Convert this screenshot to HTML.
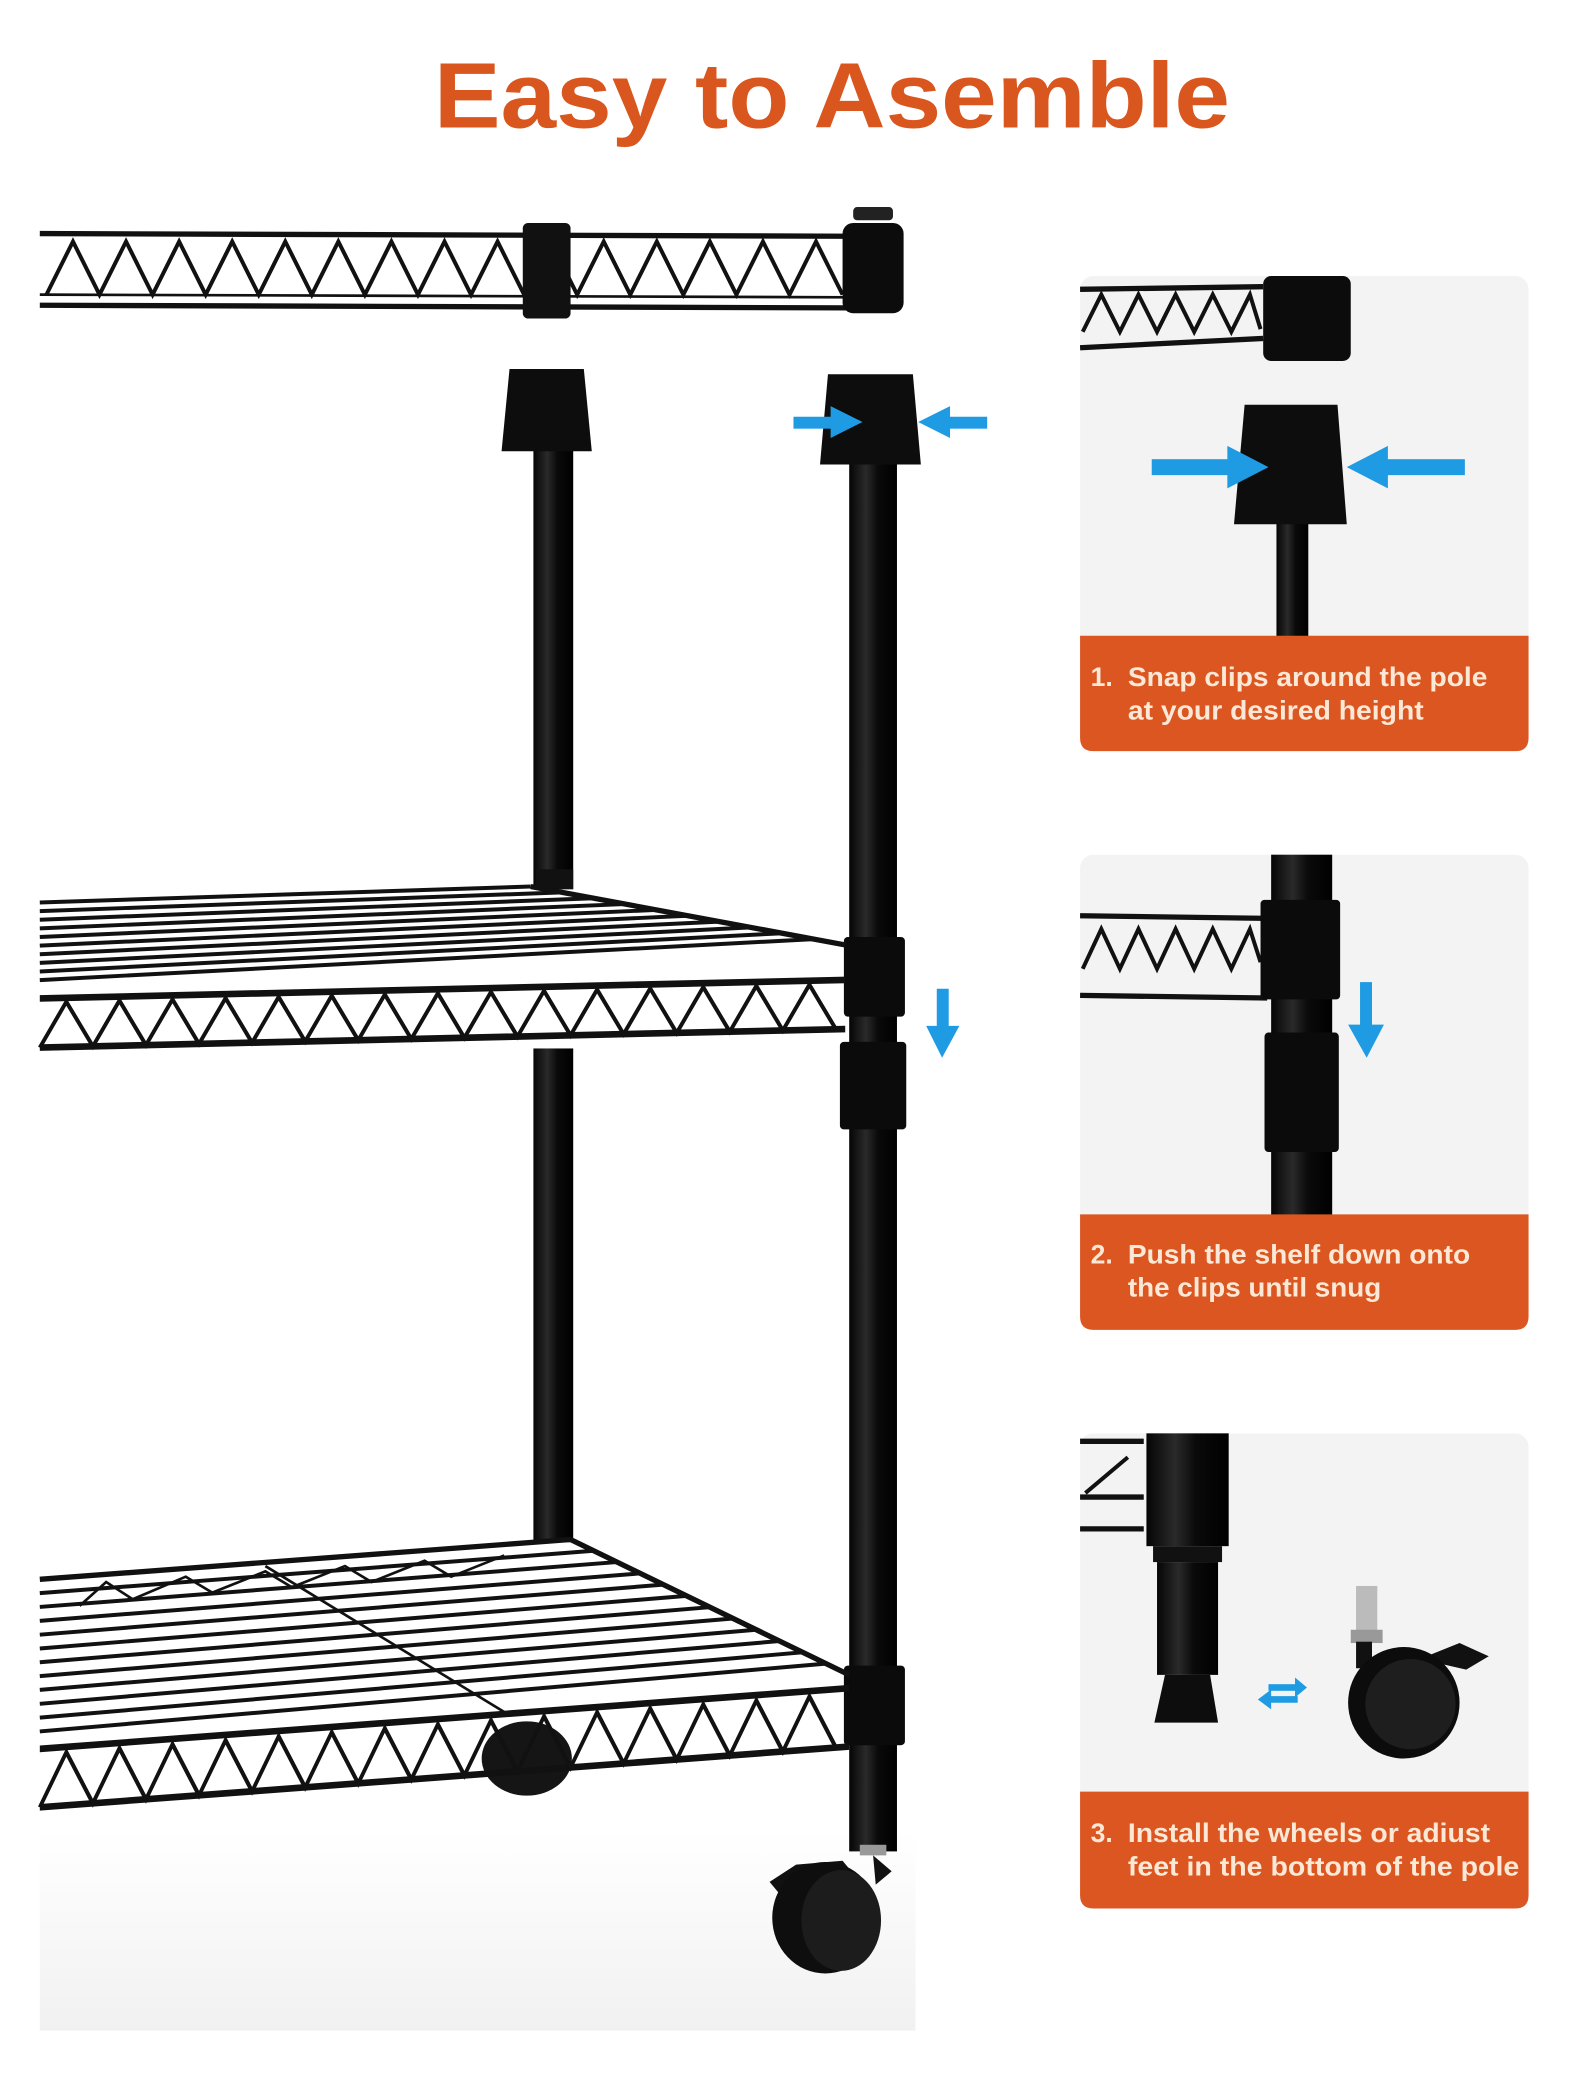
<!DOCTYPE html>
<html><head><meta charset="utf-8"><style>
html,body{margin:0;padding:0;background:#fff;width:1575px;height:2081px;overflow:hidden}
svg{display:block}
</style></head><body>
<svg width="1575" height="2081" viewBox="0 0 1187 1568" preserveAspectRatio="none" xmlns="http://www.w3.org/2000/svg">
<defs>
<linearGradient id="floor" x1="0" y1="0" x2="0" y2="1"><stop offset="0" stop-color="#fff"/><stop offset="1" stop-color="#f1f1f1"/></linearGradient>
<linearGradient id="pole" x1="0" y1="0" x2="1" y2="0"><stop offset="0" stop-color="#050505"/><stop offset="0.35" stop-color="#2a2a2a"/><stop offset="0.6" stop-color="#0a0a0a"/><stop offset="1" stop-color="#000"/></linearGradient>
</defs>
<rect width="1187" height="1568" fill="#fff"/>
<rect x="30" y="1380" width="660" height="150" fill="url(#floor)"/>

<!-- Title -->
<text x="627" y="96" text-anchor="middle" font-family="Liberation Sans, sans-serif" font-weight="bold" font-size="70" fill="#d9561e" textLength="600" lengthAdjust="spacingAndGlyphs">Easy to Asemble</text>

<!-- Top shelf -->
<g stroke="#111" fill="none" stroke-width="4">
<line x1="30" y1="176" x2="640" y2="178"/>
<line x1="30" y1="230" x2="640" y2="232"/>
<line x1="30" y1="222" x2="640" y2="224" stroke-width="2"/>
<polyline stroke-width="3" points="35,222 55,182 75,222 95,182 115,222 135,182 155,222 175,182 195,222 215,182 235,222 255,182 275,222 295,182 315,222 335,182 355,222 375,182 395,222 415,182 435,222 455,182 475,222 495,182 515,222 535,182 555,222 575,182 595,222 615,182 635,222"/>
</g>
<rect x="394" y="168" width="36" height="72" fill="#111" rx="4"/>
<rect x="635" y="168" width="46" height="68" rx="8" fill="#0c0c0c"/>
<rect x="643" y="156" width="30" height="10" rx="3" fill="#222"/>

<!-- Left pole -->
<rect x="402" y="330" width="30" height="340" fill="url(#pole)"/>
<rect x="402" y="790" width="30" height="372" fill="url(#pole)"/>
<path d="M384,278 L440,278 L446,340 L378,340 Z" fill="#0d0d0d"/>
<rect x="404" y="655" width="28" height="15" fill="#111"/>

<!-- Right pole -->
<rect x="640" y="345" width="36" height="1050" fill="url(#pole)"/>
<path d="M624,282 L688,282 L694,350 L618,350 Z" fill="#0d0d0d"/>
<rect x="636" y="706" width="46" height="60" fill="#0b0b0b" rx="3"/>
<rect x="633" y="785" width="50" height="66" fill="#0b0b0b" rx="3"/>
<rect x="636" y="1255" width="46" height="60" fill="#0b0b0b" rx="3"/>
<rect x="648" y="1390" width="20" height="8" fill="#999"/>

<!-- Blue arrows top -->
<g fill="#1e9be2">
<rect x="598" y="314" width="30" height="9"/><path d="M626,306 L650,318 L626,330 Z"/>
<rect x="714" y="314" width="30" height="9"/><path d="M716,306 L692,318 L716,330 Z"/>
<rect x="706" y="745" width="9" height="30"/><path d="M698,773 L723,773 L710,797 Z"/>
</g>

<!-- Middle shelf -->
<g stroke="#111" stroke-width="3" fill="none">
<line x1="30" y1="680" x2="400" y2="668"/>
<line x1="30" y1="686.5" x2="423.7" y2="672.4"/>
<line x1="30" y1="693" x2="447.4" y2="676.8"/>
<line x1="30" y1="699.5" x2="471.1" y2="681.2"/>
<line x1="30" y1="706" x2="494.8" y2="685.6"/>
<line x1="30" y1="712.5" x2="518.5" y2="690"/>
<line x1="30" y1="719" x2="542.2" y2="694.4"/>
<line x1="30" y1="725.5" x2="565.9" y2="698.8"/>
<line x1="30" y1="732" x2="589.6" y2="703.2"/>
<line x1="30" y1="738.5" x2="613.3" y2="707.6"/>
<line x1="400" y1="668" x2="637" y2="712" stroke-width="4"/>
</g>
<g transform="matrix(1,-0.023,0,1,0,0)" stroke="#111" fill="none">
<line x1="30" y1="753" x2="637" y2="753" stroke-width="5"/>
<line x1="30" y1="790" x2="637" y2="790" stroke-width="5"/>
<polyline stroke-width="3" points="30,790 50,756 70,790 90,756 110,790 130,756 150,790 170,756 190,790 210,756 230,790 250,756 270,790 290,756 310,790 330,756 350,790 370,756 390,790 410,756 430,790 450,756 470,790 490,756 510,790 530,756 550,790 570,756 590,790 610,756 630,790"/>
</g>

<!-- Bottom shelf -->
<ellipse cx="397" cy="1325" rx="34" ry="28" fill="#151515"/>
<g stroke="#111" stroke-width="3" fill="none">
<line x1="30" y1="1190" x2="430" y2="1160" stroke-width="4"/>
<line x1="30" y1="1200.4" x2="447.5" y2="1168.5"/>
<line x1="30" y1="1210.8" x2="465" y2="1177"/>
<line x1="30" y1="1221.3" x2="482.5" y2="1185.5"/>
<line x1="30" y1="1231.7" x2="500" y2="1194"/>
<line x1="30" y1="1242.1" x2="517.5" y2="1202.5"/>
<line x1="30" y1="1252.5" x2="535" y2="1211"/>
<line x1="30" y1="1262.9" x2="552.5" y2="1219.5"/>
<line x1="30" y1="1273.3" x2="570" y2="1228"/>
<line x1="30" y1="1283.8" x2="587.5" y2="1236.5"/>
<line x1="30" y1="1294.2" x2="605" y2="1245"/>
<line x1="30" y1="1304.6" x2="622.5" y2="1253.5"/>
<line x1="430" y1="1160" x2="640" y2="1262" stroke-width="4"/>
<line x1="200" y1="1180" x2="380" y2="1290" stroke-width="2"/>
<polyline stroke-width="2" points="60,1210 80,1192 100,1205 140,1188 160,1200 200,1184 220,1196 260,1180 280,1192 320,1176 340,1188 380,1172"/>
</g>
<g transform="matrix(1,-0.075,0,1,0,0)" stroke="#111" fill="none">
<line x1="30" y1="1320" x2="640" y2="1320" stroke-width="5"/>
<line x1="30" y1="1364" x2="640" y2="1364" stroke-width="5"/>
<polyline stroke-width="3" points="30,1364 50,1324 70,1364 90,1324 110,1364 130,1324 150,1364 170,1324 190,1364 210,1324 230,1364 250,1324 270,1364 290,1324 310,1364 330,1324 350,1364 370,1324 390,1364 410,1324 430,1364 450,1324 470,1364 490,1324 510,1364 530,1324 550,1364 570,1324 590,1364 610,1324 630,1364"/>
</g>

<!-- Front wheel -->
<path d="M658,1398 L672,1410 L660,1420 Z" fill="#111"/>
<path d="M580,1418 L600,1405 L635,1402 L650,1420 L640,1430 L590,1430 Z" fill="#111"/>
<ellipse cx="622" cy="1445" rx="40" ry="42" fill="#0e0e0e"/>
<ellipse cx="634" cy="1447" rx="30" ry="38" fill="#1c1c1c"/>

<!-- Panel 1 -->
<rect x="814" y="208" width="338" height="358" rx="10" fill="#f3f3f3"/>
<g stroke="#111" fill="none" stroke-width="4">
<line x1="814" y1="218" x2="952" y2="216"/>
<line x1="814" y1="262" x2="952" y2="255"/>
<polyline stroke-width="3" points="816,250 830,222 844,250 858,222 872,250 886,222 900,250 914,222 928,250 942,222 950,248"/>
</g>
<rect x="952" y="208" width="66" height="64" rx="6" fill="#0c0c0c"/>
<rect x="962" y="390" width="24" height="90" fill="url(#pole)"/>
<path d="M938,305 L1008,305 L1015,395 L930,395 Z" fill="#0d0d0d"/>
<g fill="#1e9be2">
<rect x="868" y="346" width="62" height="12"/><path d="M925,336 L956,352 L925,368 Z"/>
<rect x="1042" y="346" width="62" height="12"/><path d="M1046,336 L1015,352 L1046,368 Z"/>
</g>
<path d="M814,479 H1152 V556 Q1152,566 1142,566 H824 Q814,566 814,556 Z" fill="#dc5621"/>
<g font-family="Liberation Sans, sans-serif" font-weight="bold" font-size="20" fill="#fbe8d6">
<text x="822" y="517">1.</text>
<text x="850" y="517" textLength="271" lengthAdjust="spacingAndGlyphs">Snap clips around the pole</text>
<text x="850" y="542" textLength="223" lengthAdjust="spacingAndGlyphs">at your desired height</text>
</g>

<!-- Panel 2 -->
<rect x="814" y="644" width="338" height="358" rx="10" fill="#f3f3f3"/>
<g stroke="#111" fill="none" stroke-width="4">
<line x1="814" y1="690" x2="955" y2="692"/>
<line x1="814" y1="750" x2="955" y2="752"/>
<polyline stroke-width="3" points="816,730 830,700 844,730 858,700 872,730 886,700 900,730 914,700 928,730 942,700 950,725"/>
</g>
<rect x="958" y="644" width="46" height="272" fill="url(#pole)"/>
<rect x="950" y="678" width="60" height="75" fill="#0b0b0b" rx="3"/>
<rect x="953" y="778" width="56" height="90" fill="#0b0b0b" rx="3"/>
<g fill="#1e9be2"><rect x="1025" y="740" width="9" height="35"/><path d="M1016,772 L1043,772 L1030,797 Z"/></g>
<path d="M814,915 H1152 V992 Q1152,1002 1142,1002 H824 Q814,1002 814,992 Z" fill="#dc5621"/>
<g font-family="Liberation Sans, sans-serif" font-weight="bold" font-size="20" fill="#fbe8d6">
<text x="822" y="952">2.</text>
<text x="850" y="952" textLength="258" lengthAdjust="spacingAndGlyphs">Push the shelf down onto</text>
<text x="850" y="977" textLength="191" lengthAdjust="spacingAndGlyphs">the clips until snug</text>
</g>

<!-- Panel 3 -->
<rect x="814" y="1080" width="338" height="358" rx="10" fill="#f3f3f3"/>
<g stroke="#111" fill="none" stroke-width="4">
<line x1="814" y1="1086" x2="862" y2="1086"/>
<line x1="814" y1="1128" x2="862" y2="1128"/>
<line x1="814" y1="1152" x2="862" y2="1152"/>
<line x1="818" y1="1125" x2="850" y2="1098" stroke-width="3"/>
</g>
<rect x="864" y="1080" width="62" height="85" fill="url(#pole)"/>
<rect x="869" y="1165" width="52" height="12" fill="#111"/>
<rect x="872" y="1177" width="46" height="85" fill="url(#pole)"/>
<path d="M878,1262 L912,1262 L918,1298 L870,1298 Z" fill="#0d0d0d"/>
<g fill="#1e9be2">
<rect x="956" y="1269" width="22" height="5"/><path d="M976,1264 L985,1271.5 L976,1279 Z"/>
<rect x="956" y="1278" width="22" height="5"/><path d="M958,1273 L948,1280.5 L958,1288 Z"/>
</g>
<rect x="1022" y="1195" width="16" height="35" fill="#bbb"/>
<rect x="1018" y="1228" width="24" height="10" fill="#999"/>
<rect x="1022" y="1237" width="12" height="20" fill="#111"/>
<path d="M1070,1250 L1100,1238 L1122,1248 L1105,1258 Z" fill="#111"/>
<circle cx="1058" cy="1283" r="42" fill="#0c0c0c"/>
<circle cx="1063" cy="1284" r="34" fill="#1e1e1e"/>
<path d="M814,1350 H1152 V1428 Q1152,1438 1142,1438 H824 Q814,1438 814,1428 Z" fill="#dc5621"/>
<g font-family="Liberation Sans, sans-serif" font-weight="bold" font-size="20" fill="#fbe8d6">
<text x="822" y="1388">3.</text>
<text x="850" y="1388" textLength="273" lengthAdjust="spacingAndGlyphs">Install the wheels or adiust</text>
<text x="850" y="1413" textLength="295" lengthAdjust="spacingAndGlyphs">feet in the bottom of the pole</text>
</g>
</svg>
</body></html>
